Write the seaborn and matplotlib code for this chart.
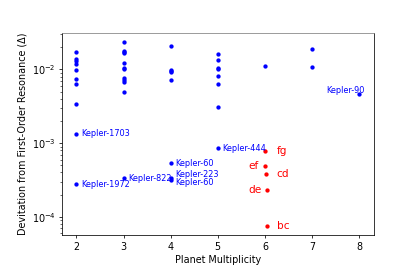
import matplotlib
matplotlib.use("Agg")
import matplotlib.pyplot as plt
import seaborn as sns
import pandas as pd

# unlabelled systems: multiplicity and deviation from first-order resonance
mult_plain = [2, 2, 2, 2, 2, 2, 2, 2,
              3, 3, 3, 3, 3, 3, 3, 3, 3, 3, 3,
              4, 4, 4, 4, 4,
              5, 5, 5, 5, 5, 5, 5,
              6, 7, 7]
delta_plain = [0.0170, 0.0138, 0.0131, 0.0119, 0.0097, 0.0074, 0.0064, 0.0034,
               0.0233, 0.0180, 0.0172, 0.0165, 0.0123, 0.0104, 0.0101, 0.0077, 0.0072, 0.0068, 0.0049,
               0.0209, 0.0099, 0.0095, 0.0091, 0.0072,
               0.0162, 0.0134, 0.0106, 0.0101, 0.0082, 0.0063, 0.0031,
               0.0112, 0.0188, 0.0108]

# labelled Kepler systems
kep_names = ["Kepler-1703", "Kepler-1972", "Kepler-822", "Kepler-60",
             "Kepler-223", "Kepler-60", "Kepler-444", "Kepler-90"]
kep_mult = [2, 2, 3, 4, 4, 4, 5, 8]
kep_delta = [0.00134, 0.000275, 0.000337, 0.000535,
             0.000335, 0.000320, 0.000858, 0.00464]

# adjacent pairs of the 6-planet resonant chain (red)
pair_names = ["fg", "ef", "cd", "de", "bc"]
pair_mult = [6.0, 6.0, 6.03, 6.05, 6.05]
pair_delta = [0.00079, 0.000488, 0.000381, 0.000231, 0.0000758]

blue = pd.DataFrame({"mult": mult_plain + kep_mult,
                     "delta": delta_plain + kep_delta})
red = pd.DataFrame({"mult": pair_mult, "delta": pair_delta})

fig, ax = plt.subplots(figsize=(6, 6 * 277 / 415), dpi=415 / 6)
fig.subplots_adjust(left=0.15, right=0.9, bottom=0.152, top=0.88)

sns.scatterplot(data=blue, x="mult", y="delta", color="blue", s=20,
                linewidth=0, ax=ax)
sns.scatterplot(data=red, x="mult", y="delta", color="red", s=20,
                linewidth=0, ax=ax)
ax.set_yscale("log")

# Kepler labels
for name, x, y in zip(kep_names, kep_mult, kep_delta):
    dx, dy, ha = 5, 0, "left"
    if name == "Kepler-223":
        dy = 3.5
    elif name == "Kepler-60" and y < 4e-4:
        dy = -2.5
    elif name == "Kepler-90":
        dx, dy, ha = 5, 4, "right"
    elif name == "Kepler-822":
        dy = -1
    ax.annotate(name, (x, y), xytext=(dx, dy), textcoords="offset points",
                ha=ha, va="center", color="blue", fontsize=8.5)

# pair labels
for name, x, y in zip(pair_names, pair_mult, pair_delta):
    lx = 5.65 if name in ("ef", "de") else 6.25
    ax.text(lx, y, name, color="red", fontsize=11, ha="left", va="center")

ax.set_xlabel("Planet Multiplicity")
ax.set_ylabel("Devitation from First-Order Resonance (Δ)")
ax.spines["top"].set_color("gray")

plt.savefig("out.png")
